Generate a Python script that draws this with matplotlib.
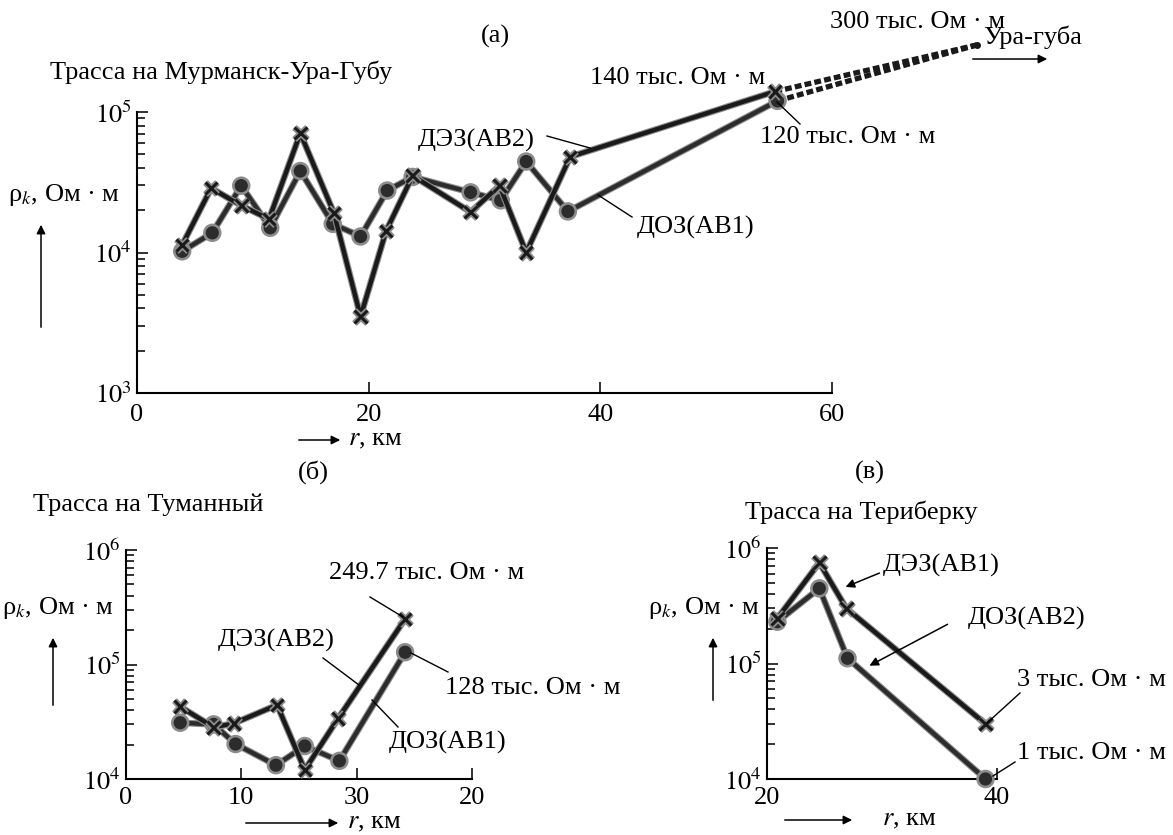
import numpy as np
import matplotlib
matplotlib.use('Agg')
import matplotlib.pyplot as plt
import matplotlib.patheffects as pe
from matplotlib.lines import Line2D
from matplotlib.patches import FancyArrowPatch
from matplotlib.ticker import FixedLocator, FuncFormatter, NullFormatter

plt.rcParams['font.family'] = 'Liberation Serif'
plt.rcParams['mathtext.fontset'] = 'stix'
plt.rcParams['font.size'] = 19

# (а) Мурманск - Ура-Губа, r in km, rho in Ohm*m
top_dez_r = [3.9, 6.4, 9.0, 11.4, 14.1, 17.0, 19.3, 21.5, 23.8, 28.8, 31.3, 33.6, 37.4, 55.1]
top_dez_rho = [11300, 28700, 21600, 17300, 70600, 19100, 3500, 14200, 35200, 19400, 29900, 10000, 48000, 140000]
top_doz_r = [3.9, 6.5, 9.0, 11.5, 14.1, 16.9, 19.3, 21.6, 23.8, 28.8, 31.4, 33.6, 37.2, 55.3]
top_doz_rho = [10200, 13800, 29900, 15000, 38000, 16000, 13000, 27600, 34500, 26800, 23500, 44400, 19600, 120000]
ura_r = 72.5
ura_rho = 300000

# (б) Туманный
bl_dez_r = [4.7, 7.6, 9.35, 13.1, 15.5, 18.4, 24.2]
bl_dez_rho = [42800, 28300, 30600, 44300, 12000, 33900, 249700]
bl_doz_r = [4.7, 7.6, 9.5, 13.0, 15.5, 18.5, 24.2]
bl_doz_rho = [31000, 30000, 20200, 13200, 19400, 14400, 128000]
bl_ticks = [0, 10, 20, 30]
bl_ticklabels = ['0', '10', '30', '20']

# (в) Териберка
br_dez_r = [20.9, 24.55, 26.9, 39.0]
br_dez_rho = [246000, 746000, 300000, 30000]
br_doz_r = [20.9, 24.55, 27.0, 39.0]
br_doz_rho = [230000, 447000, 111000, 10000]

W, H = 1173, 835
fig = plt.figure(figsize=(W / 100, H / 100), dpi=100)

DEZ_C = '#1a1a1a'
DOZ_C = '#2c2c2c'
halo = [pe.Stroke(linewidth=4.8, foreground='#8c8c8c'), pe.Normal()]


def panel(left, top, right, bottom, xlim, ylim, xticks):
    ax = fig.add_axes([left / W, 1 - bottom / H, (right - left) / W, (bottom - top) / H])
    ax.set_yscale('log')
    ax.set_xlim(*xlim)
    ax.set_ylim(*ylim)
    ax.patch.set_alpha(0)
    ax.spines[['top', 'right']].set_visible(False)
    ax.spines[['left', 'bottom']].set_linewidth(1.5)
    ax.xaxis.set_major_locator(FixedLocator(xticks))
    ax.yaxis.set_major_formatter(FuncFormatter(lambda v, p: '$10^{%d}$' % round(np.log10(v))))
    ax.yaxis.set_minor_formatter(NullFormatter())
    ax.tick_params(which='both', direction='in', width=1.3, color='#222')
    ax.tick_params(which='major', length=8)
    ax.tick_params(which='minor', length=6)
    ax.tick_params(axis='y', pad=4)
    ax.tick_params(axis='x', pad=8)
    return ax


def curve(ax, r, rho, marker, color):
    if marker == 'x':
        ax.plot(r, rho, color=color, lw=3.2, marker='x', ms=9, mew=2.2,
                clip_on=False, path_effects=halo, zorder=3)
    else:
        ax.plot(r, rho, color=color, lw=3.2, marker='o', ms=8.5,
                clip_on=False, path_effects=halo, zorder=3)


def put(x, y, s, ha='left', **kw):
    fig.text(x / W, 1 - y / H, s, ha=ha, va='center', **kw)


def line(x1, y1, x2, y2):
    fig.add_artist(Line2D([x1 / W, x2 / W], [1 - y1 / H, 1 - y2 / H],
                          transform=fig.transFigure, lw=1, color='k'))


def arrow(x1, y1, x2, y2):
    fig.add_artist(FancyArrowPatch((x1 / W, 1 - y1 / H), (x2 / W, 1 - y2 / H),
                                   transform=fig.transFigure, arrowstyle='-|>',
                                   mutation_scale=13, lw=1.1, color='k'))


# (а)
ax = panel(137, 112, 832, 393, (0, 60), (1e3, 1e5), [0, 20, 40, 60])
curve(ax, top_doz_r, top_doz_rho, 'o', DOZ_C)
curve(ax, top_dez_r, top_dez_rho, 'x', DEZ_C)
for r0, rho0 in [(top_dez_r[-1], top_dez_rho[-1]), (top_doz_r[-1], top_doz_rho[-1])]:
    ax.plot([r0, ura_r], [rho0, ura_rho], color=DEZ_C, lw=3.8,
            linestyle=(0, (1.3, 0.6)), clip_on=False, zorder=2)
ax.plot([ura_r], [ura_rho], 'o', color=DEZ_C, ms=4, clip_on=False)

put(495, 36, '(а)', ha='center')
put(50, 72, 'Трасса на Мурманск-Ура-Губу')
put(8, 195, 'ρ$_k$, Ом · м')
arrow(41, 330, 41, 222)
put(418, 140, 'ДЭЗ(АВ2)')
line(547, 136, 590, 148)
put(590, 78, '140 тыс. Ом · м')
put(760, 137, '120 тыс. Ом · м')
line(777, 102, 800, 124)
put(637, 227, 'ДОЗ(АВ1)')
line(598, 195, 632, 217)
put(830, 22, '300 тыс. Ом · м')
put(983, 37, 'Ура-губа')
arrow(970, 59, 1050, 59)
arrow(296, 440, 343, 440)
put(348, 440, '$r$, км')

# (б)
ax = panel(126, 550, 472, 779, (0, 30), (1e4, 1e6), bl_ticks)
ax.set_xticklabels(bl_ticklabels)
ax.tick_params(axis='x', pad=6)
curve(ax, bl_doz_r, bl_doz_rho, 'o', DOZ_C)
curve(ax, bl_dez_r, bl_dez_rho, 'x', DEZ_C)

put(313, 472, '(б)', ha='center')
put(33, 505, 'Трасса на Туманный')
put(2, 608, 'ρ$_k$, Ом · м')
arrow(53, 708, 53, 635)
put(329, 573, '249.7 тыс. Ом · м')
line(370, 597, 403, 617)
put(218, 640, 'ДЭЗ(АВ2)')
line(323, 658, 359, 685)
put(445, 688, '128 тыс. Ом · м')
line(411, 653, 448, 672)
put(389, 742, 'ДОЗ(АВ1)')
line(372, 700, 398, 727)
arrow(243, 823, 341, 823)
put(347, 823, '$r$, км')

# (в)
ax = panel(767, 548, 997, 779, (20, 40), (1e4, 1e6), [20, 40])
ax.tick_params(axis='x', pad=6)
curve(ax, br_doz_r, br_doz_rho, 'o', DOZ_C)
curve(ax, br_dez_r, br_dez_rho, 'x', DEZ_C)

put(870, 472, '(в)', ha='center')
put(745, 512, 'Трасса на Териберку')
put(760, 608, 'ρ$_k$, Ом · м', ha='right')
arrow(713, 703, 713, 635)
put(883, 565, 'ДЭЗ(АВ1)')
arrow(882, 572, 843, 588)
put(968, 618, 'ДОЗ(АВ2)')
arrow(950, 623, 867, 667)
put(1017, 680, '3 тыс. Ом · м')
line(1020, 693, 987, 723)
put(1017, 753, '1 тыс. Ом · м')
line(1015, 762, 993, 776)
arrow(782, 820, 855, 820)
put(882, 820, '$r$, км')

fig.savefig('out.png', dpi=100)
